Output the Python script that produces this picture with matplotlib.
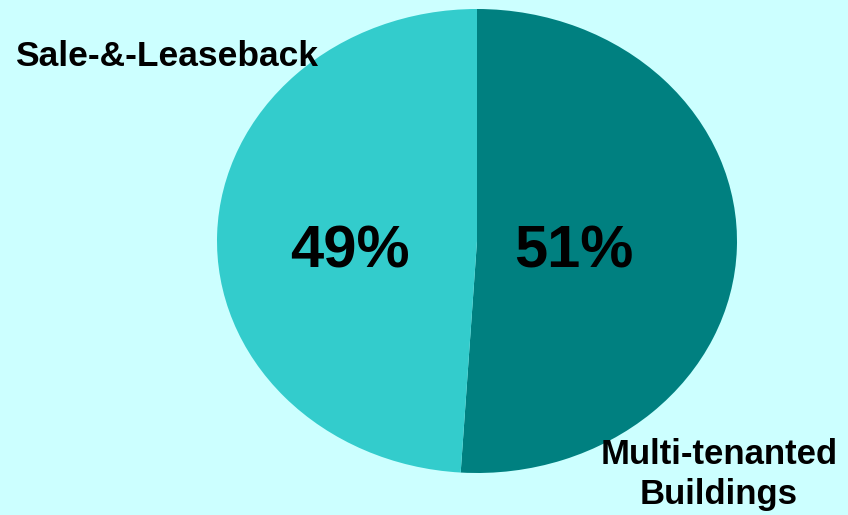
import matplotlib.pyplot as plt

# Data
labels = ['Multi-tenanted\nBuildings', 'Sale-&-Leaseback']
shares = [51, 49]
colors = ['#008080', '#33CCCC']

W, H = 848, 515
bg = '#CCFFFF'

fig = plt.figure(figsize=(W / 100, H / 100), dpi=100, facecolor=bg)

# Pie drawn as an ellipse (axes not equal aspect)
left, right, top, bottom = 217, 737, 9, 473
ax = fig.add_axes([left / W, (H - bottom) / H, (right - left) / W, (bottom - top) / H])
ax.set_facecolor(bg)
ax.pie(shares, colors=colors, startangle=90, counterclock=False,
       wedgeprops=dict(linewidth=0))
ax.set_aspect('auto')
ax.set_xlim(-1, 1)
ax.set_ylim(-1, 1)
ax.axis('off')

plt.rcParams['font.family'] = ['Liberation Sans', 'DejaVu Sans']

# Percentage labels
pct_x = [574, 350]
for v, px in zip(shares, pct_x):
    fig.text(px / W, (H - 268) / H, f'{v}%', ha='center', va='baseline',
             fontsize=43, fontweight='bold')

# Category labels
fig.text(15 / W, (H - 66) / H, labels[1], ha='left', va='baseline',
         fontsize=25.5, fontweight='bold')
fig.text(719 / W, (H - 504) / H, labels[0], ha='center', va='baseline',
         fontsize=25, fontweight='bold', linespacing=1.27, multialignment='center')

plt.savefig('out.png', dpi=100, facecolor=bg)
